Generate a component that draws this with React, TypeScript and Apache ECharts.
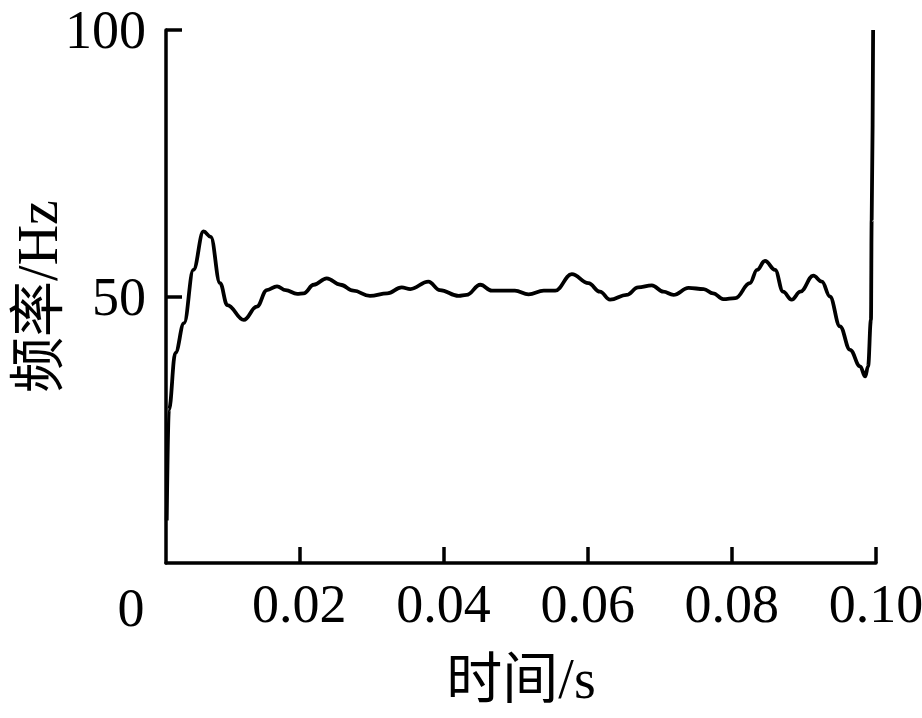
import { useEffect, useRef } from 'react';
import * as echarts from 'echarts';

// 时间 (s)
const timeData = [
  0.0016, 0.0019, 0.0028, 0.004, 0.0053, 0.0067, 0.0077, 0.009, 0.01, 0.0123,
  0.0141, 0.0155, 0.0169, 0.0181, 0.0197, 0.0206, 0.022, 0.0238, 0.0257, 0.0275,
  0.0298, 0.0322, 0.0342, 0.0354, 0.0379, 0.0395, 0.0421, 0.0432, 0.0451, 0.0467,
  0.0499, 0.0518, 0.0539, 0.0555, 0.0578, 0.0601, 0.0617, 0.0631, 0.0654, 0.067,
  0.0689, 0.0705, 0.0719, 0.074, 0.0761, 0.0774, 0.0788, 0.0805, 0.0825, 0.0835,
  0.0846, 0.086, 0.0871, 0.0883, 0.0895, 0.0913, 0.0925, 0.0936, 0.095, 0.0964,
  0.0978, 0.0985, 0.0989, 0.0993, 0.0994, 0.0996,
];

// 频率 (Hz)
const freqData = [
  8, 28.7, 39.4, 45, 55, 62.2, 61.2, 52.5, 48.4, 45.6,
  48.1, 51.2, 51.9, 51.2, 50.5, 50.6, 52.2, 53.4, 52.2, 51.1,
  50.1, 50.6, 51.7, 51.4, 52.8, 51.2, 50.1, 50.3, 52.2, 51.1,
  51.1, 50.4, 51.1, 51.1, 54.2, 52.5, 50.9, 49.4, 50.3, 51.7,
  52.1, 50.9, 50.3, 51.6, 51.4, 50.6, 49.5, 49.7, 52.5, 55,
  56.7, 55, 50.9, 49.4, 50.9, 53.9, 52.8, 50, 44.4, 40,
  36.9, 35, 36.9, 45.6, 64.4, 100,
];

const xTicks = [0.02, 0.04, 0.06, 0.08, 0.1];
const xTickLabels = ['0.02', '0.04', '0.06', '0.08', '0.10'];
const yTicks = [50, 100];

const FONT = "'Liberation Serif', 'Times New Roman', 'Noto Sans CJK SC', serif";

export default function App() {
  const chartRef = useRef<HTMLDivElement>(null);

  useEffect(() => {
    if (!chartRef.current) return;
    const chart = echarts.init(chartRef.current, undefined, { renderer: 'svg' });

    const axisLine = { show: true, lineStyle: { color: '#000', width: 3.5 } };
    const axisTick = { show: true, inside: true, length: 16, lineStyle: { color: '#000', width: 3.5 } };

    const option: echarts.EChartsOption = {
      animation: false,
      backgroundColor: '#fff',
      grid: {
        left: 166,
        right: 46,
        top: 30,
        bottom: 155,
        containLabel: false,
        outerBoundsMode: 'none',
      } as any,
      xAxis: {
        type: 'value',
        min: 0.0015,
        max: 0.1,
        name: '时间/s',
        nameLocation: 'middle',
        nameGap: 88,
        nameMoveOverlap: false,
        nameTextStyle: { fontFamily: FONT, fontSize: 56, color: '#000' },
        axisLine,
        axisTick: { ...axisTick, customValues: xTicks },
        axisLabel: {
          customValues: xTicks,
          margin: 14,
          fontFamily: FONT,
          fontSize: 54,
          color: '#000',
          formatter: (v: number) => xTickLabels[xTicks.findIndex((t) => Math.abs(t - v) < 1e-9)] ?? '',
        },
        splitLine: { show: false },
      } as any,
      yAxis: {
        type: 'value',
        min: 0,
        max: 100,
        interval: 50,
        name: '频率/Hz',
        nameLocation: 'middle',
        nameGap: 100,
        nameMoveOverlap: false,
        nameTextStyle: { fontFamily: FONT, fontSize: 56, color: '#000' },
        axisLine,
        axisTick: { ...axisTick, customValues: yTicks },
        axisLabel: {
          customValues: yTicks,
          margin: 20,
          fontFamily: FONT,
          fontSize: 54,
          color: '#000',
        },
        splitLine: { show: false },
      } as any,
      graphic: [
        {
          type: 'text',
          x: 131,
          y: 608,
          style: {
            text: '0',
            fontFamily: FONT,
            fontSize: 54,
            fill: '#000',
            align: 'center',
            verticalAlign: 'middle',
          },
        },
      ],
      series: [
        {
          type: 'line',
          data: timeData.map((t, i) => [t, freqData[i]]),
          showSymbol: false,
          smooth: 0.4,
          smoothMonotone: 'x',
          lineStyle: { color: '#000', width: 3.8 },
          clip: false,
        },
      ],
    };

    chart.setOption(option);

    return () => {
      chart.dispose();
    };
  }, []);

  return (
    <div
      ref={chartRef}
      style={{ position: 'fixed', left: 0, top: 0, width: 922, height: 718 }}
    />
  );
}
